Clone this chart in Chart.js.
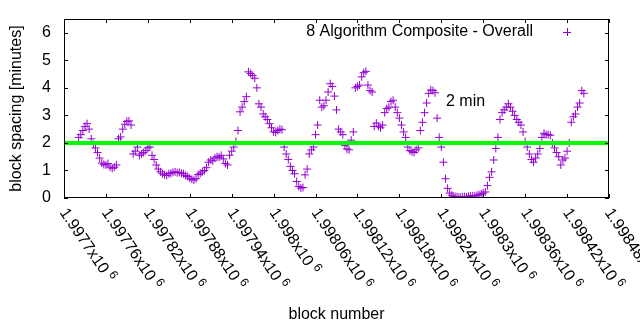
<!DOCTYPE html>
<html>
<head>
<meta charset="utf-8">
<script src="https://cdn.jsdelivr.net/npm/chart.js@4"></script>
<style>
  html, body { margin: 0; padding: 0; background: #fff; }
</style>
</head>
<body>
<canvas id="spacingChart" width="640" height="330"></canvas>
<script>
// block spacing data (moving average, minutes)
const firstBlock = 1997700;
const blockOffsets = [
    21, 24, 27, 30, 33, 36, 39, 42, 45, 48,
    51, 54, 57, 60, 63, 66, 69, 72, 75, 78,
    81, 84, 87, 90, 93, 96, 99, 102, 105, 108,
    111, 114, 117, 120, 123, 126, 129, 132, 135, 138,
    141, 144, 147, 150, 153, 156, 159, 162, 165, 168,
    171, 174, 177, 180, 183, 186, 189, 192, 195, 198,
    201, 204, 207, 210, 213, 216, 219, 222, 225, 228,
    231, 234, 237, 240, 243, 246, 249, 252, 255, 258,
    261, 264, 267, 270, 273, 276, 279, 282, 285, 288,
    291, 294, 297, 300, 303, 306, 309, 312, 315, 318,
    321, 324, 327, 330, 333, 336, 339, 342, 345, 348,
    351, 354, 357, 360, 363, 366, 369, 372, 375, 378,
    381, 384, 387, 390, 393, 396, 399, 402, 405, 408,
    411, 414, 417, 420, 423, 426, 429, 432, 435, 438,
    441, 444, 447, 450, 453, 456, 459, 462, 465, 468,
    471, 474, 477, 480, 483, 486, 489, 492, 495, 498,
    501, 504, 507, 510, 513, 516, 519, 522, 525, 528,
    531, 534, 537, 540, 543, 546, 549, 552, 555, 558,
    561, 564, 567, 570, 573, 576, 579, 582, 585, 588,
    591, 594, 597, 600, 603, 606, 609, 612, 615, 618,
    621, 624, 627, 630, 633, 636, 639, 642, 645, 648,
    651, 654, 657, 660, 663, 666, 669, 672, 675, 678,
    681, 684, 687, 690, 693, 696, 699, 702, 705, 708,
    711, 714, 717, 720, 723, 726, 729, 732, 735, 738,
    741, 744
];
const spacingMinutes = [
    2.2, 2.3, 2.45, 2.6, 2.7, 2.5, 2.15, 1.95, 1.82, 1.65,
    1.45, 1.27, 1.22, 1.2, 1.25, 1.12, 1.08, 1.12, 1.2, 2.15,
    2.22, 2.5, 2.68, 2.78, 2.8, 2.65, 1.6, 1.7, 1.85, 1.55,
    1.6, 1.65, 1.72, 1.82, 1.85, 1.55, 1.4, 1.2, 1.05, 0.95,
    0.88, 0.84, 0.82, 0.88, 0.9, 0.93, 0.95, 0.92, 0.93, 0.9,
    0.88, 0.82, 0.78, 0.72, 0.68, 0.65, 0.7, 0.85, 0.9, 0.95,
    1.0, 1.1, 1.3, 1.38, 1.35, 1.45, 1.5, 1.48, 1.55, 1.42,
    1.25, 1.2, 1.55, 1.7, 1.85, 2.05, 2.45, 3.13, 3.3, 3.5,
    3.68, 4.58, 4.52, 4.45, 4.35, 4.0, 3.42, 3.3, 3.05, 2.95,
    2.85, 2.7, 2.55, 2.4, 2.38, 2.45, 2.5, 2.48, 1.85, 1.6,
    1.4, 1.15, 1.0, 0.88, 0.6, 0.42, 0.36, 0.38, 0.84, 1.05,
    1.6, 1.75, 1.85, 2.3, 2.65, 3.55, 3.3, 3.35, 3.55, 3.85,
    4.15, 4.05, 3.7, 3.2, 2.5, 2.4, 2.3, 1.9, 1.78, 1.75,
    2.1, 2.4, 4.0, 4.05, 4.1, 4.4, 4.55, 4.6, 4.1, 3.9,
    3.85, 2.6, 2.72, 2.6, 2.55, 2.65, 3.1, 3.25, 3.3, 3.5,
    3.55, 3.3, 3.1, 2.9, 2.65, 2.4, 2.2, 1.85, 1.72, 1.68,
    1.65, 1.75, 1.82, 2.45, 2.75, 3.1, 3.45, 3.8, 3.92, 3.9,
    3.82, 2.9, 2.2, 1.85, 1.3, 0.7, 0.35, 0.18, 0.1, 0.06,
    0.05, 0.04, 0.03, 0.04, 0.05, 0.04, 0.06, 0.07, 0.08, 0.07,
    0.1, 0.12, 0.15, 0.18, 0.22, 0.45, 0.75, 0.95, 1.38, 1.8,
    2.2, 2.85, 3.1, 3.2, 3.3, 3.42, 3.3, 3.15, 3.0, 2.85,
    2.75, 2.65, 2.4, 2.05, 1.85, 1.6, 1.4, 1.3, 1.45, 1.6,
    1.8, 2.2, 2.35, 2.3, 2.3, 2.28, 2.0, 1.82, 1.65, 1.5,
    1.2, 1.38, 1.45, 1.7, 2.0, 2.75, 2.95, 3.05, 3.3, 3.45,
    3.9, 3.8
];
const targetMinutes = 2;

// axis ticks
const xTicks = [1997700, 1997760, 1997820, 1997880, 1997940, 1998000, 1998060,
    1998120, 1998180, 1998240, 1998300, 1998360, 1998420, 1998480];
const xTickLabels = ['1.9977', '1.99776', '1.99782', '1.99788', '1.99794', '1.998', '1.99806',
    '1.99812', '1.99818', '1.99824', '1.9983', '1.99836', '1.99842', '1.99848'];
const yTicks = [0, 1, 2, 3, 4, 5, 6];

const purple = '#9400d3';
const font = '"Liberation Sans", Arial, sans-serif';

const points = blockOffsets.map((off, i) => ({ x: firstBlock + off, y: spacingMinutes[i] }));
const targetLine = [
    { x: xTicks[0], y: targetMinutes },
    { x: xTicks[xTicks.length - 1], y: targetMinutes },
];

// gnuplot style frame, mirrored ticks and labels
const gnuplotFrame = {
    id: 'gnuplotFrame',
    afterDraw(chart) {
        const { ctx, chartArea: a, scales: { x, y } } = chart;
        ctx.save();
        ctx.strokeStyle = '#000';
        ctx.lineWidth = 1;
        ctx.strokeRect(a.left + 0.5, a.top + 0.5, a.right - a.left - 1, a.bottom - a.top - 1);

        ctx.beginPath();
        yTicks.forEach(v => {
            const py = Math.round(y.getPixelForValue(v)) + 0.5;
            ctx.moveTo(a.left, py); ctx.lineTo(a.left + 4, py);
            ctx.moveTo(a.right, py); ctx.lineTo(a.right - 4, py);
        });
        xTicks.forEach(v => {
            const px = Math.round(x.getPixelForValue(v)) + 0.5;
            ctx.moveTo(px, a.bottom); ctx.lineTo(px, a.bottom - 4);
            ctx.moveTo(px, a.top); ctx.lineTo(px, a.top + 4);
        });
        ctx.stroke();

        ctx.fillStyle = '#000';
        ctx.font = '16px ' + font;
        ctx.textAlign = 'right';
        ctx.textBaseline = 'middle';
        yTicks.forEach(v => ctx.fillText(String(v), a.left - 13, y.getPixelForValue(v)));

        // rotated x labels, reading down to the right
        xTicks.forEach((v, i) => {
            const px = x.getPixelForValue(v);
            ctx.save();
            ctx.translate(px - 1, a.bottom + 12);
            ctx.rotate(56 * Math.PI / 180);
            ctx.textAlign = 'left';
            ctx.font = '16px ' + font;
            const txt = xTickLabels[i] + 'x10';
            ctx.fillText(txt, 0, 0);
            const w = ctx.measureText(txt).width;
            ctx.font = '12px ' + font;
            ctx.fillText('6', w + 4, -5);
            ctx.restore();
        });

        ctx.font = '16px ' + font;
        ctx.textAlign = 'center';
        ctx.fillText('block number', (a.left + a.right) / 2, 315);
        ctx.save();
        ctx.translate(17, (a.top + a.bottom) / 2);
        ctx.rotate(-Math.PI / 2);
        ctx.fillText('block spacing [minutes]', 0, 0);
        ctx.restore();

        ctx.textAlign = 'right';
        ctx.fillText('8 Algorithm Composite - Overall', 533, 32);
        // legend sample marker
        ctx.strokeStyle = purple;
        ctx.beginPath();
        ctx.moveTo(563, 32.5); ctx.lineTo(571, 32.5);
        ctx.moveTo(567.5, 28); ctx.lineTo(567.5, 36);
        ctx.stroke();

        ctx.textAlign = 'left';
        ctx.fillText('2 min', 446, 102);
        ctx.restore();
    }
};

const ctx = document.getElementById('spacingChart').getContext('2d');
const spacingChart = new Chart(ctx, {
    type: 'scatter',
    data: {
        datasets: [
            {
                label: '2 min',
                type: 'line',
                data: targetLine,
                borderColor: '#00ff00',
                borderWidth: 4,
                pointRadius: 0,
                fill: false,
            },
            {
                label: '8 Algorithm Composite - Overall',
                data: points,
                pointStyle: 'cross',
                pointRadius: 4,
                borderWidth: 1,
                borderColor: purple,
                backgroundColor: purple,
            },
        ],
    },
    options: {
        responsive: false,
        animation: false,
        layout: { padding: { left: 64, right: 31, top: 19, bottom: 132 } },
        plugins: {
            legend: { display: false },
            tooltip: { enabled: false },
        },
        scales: {
            x: { type: 'linear', min: 1997700, max: 1998480, display: false },
            y: { min: 0, max: 6.5, display: false },
        },
    },
    plugins: [gnuplotFrame],
});
</script>
</body>
</html>
